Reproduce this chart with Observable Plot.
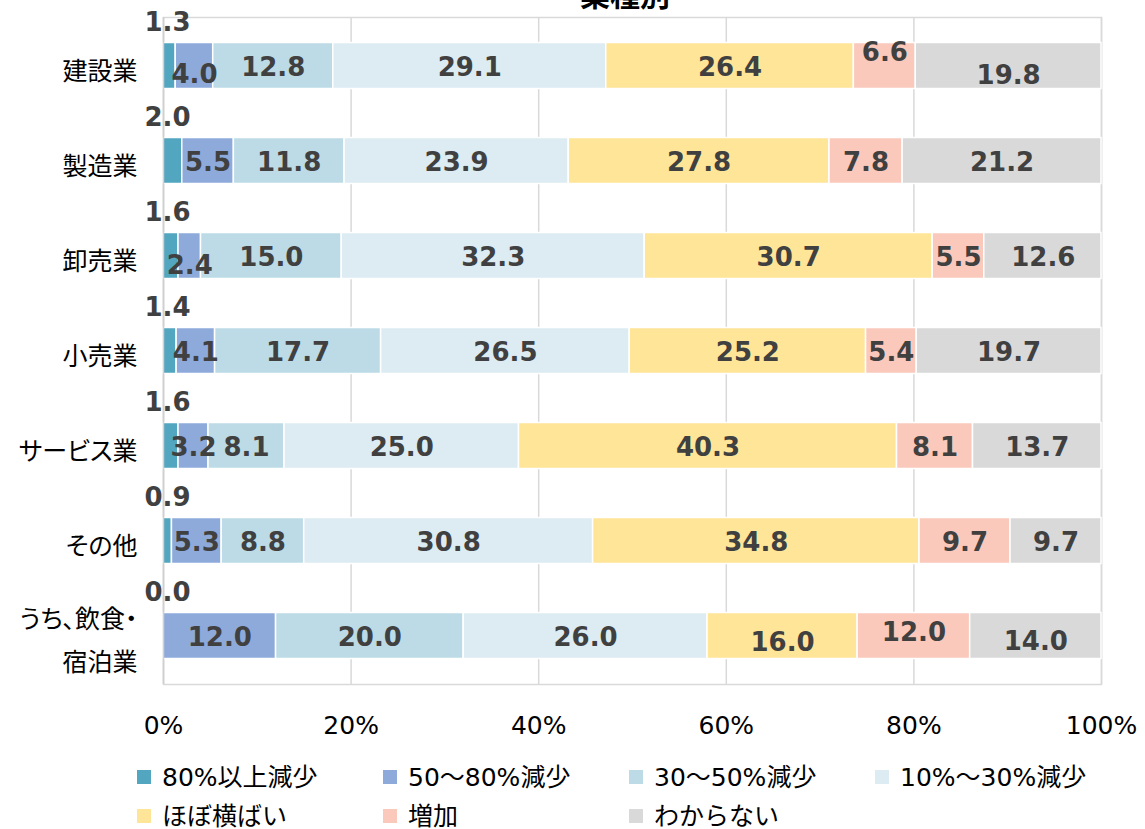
<!DOCTYPE html>
<html><head><meta charset="utf-8">
<script src="https://cdn.jsdelivr.net/npm/d3@7"></script>
<script src="https://cdn.jsdelivr.net/npm/@observablehq/plot@0.6"></script>
<style>
body{margin:0;background:#fff;}
#wrap{position:relative;width:1145px;height:829px;overflow:hidden;background:#fff;}
#title{position:absolute;top:-22px;left:0;width:1250px;text-align:center;font:bold 30px/30px "Noto Sans CJK JP";color:#000;}
#chart{position:absolute;top:0;left:0;}
#chart svg g[aria-label="y-axis tick label"] text{font-feature-settings:"palt";}
#legend{position:absolute;top:755px;left:137px;display:grid;grid-template-columns:repeat(4,246px);grid-auto-rows:39px;font:25px "DejaVu Sans","Noto Sans CJK JP";color:#000;}
#legend .it{display:flex;align-items:center;white-space:nowrap;}
#legend .sw{width:14px;height:14px;margin-right:11px;margin-top:4px;flex:none;}
</style></head>
<body><div id="wrap"><div id="title">業種別</div><div id="chart"></div><div id="legend"></div></div>
<script>
const categories = ["建設業","製造業","卸売業","小売業","サービス業","その他","うち、飲食・宿泊業"];
const seriesNames = ["80%以上減少","50～80%減少","30～50%減少","10%～30%減少","ほぼ横ばい","増加","わからない"];
const colors = ["#52A6C0","#8EAADB","#BCDBE6","#DCECF2","#FFE598","#FAC9BC","#D9D9D9"];
// values per series, in category order
const s80 = [1.3, 2.0, 1.6, 1.4, 1.6, 0.9, 0.0];
const s50 = [4.0, 5.5, 2.4, 4.1, 3.2, 5.3, 12.0];
const s30 = [12.8, 11.8, 15.0, 17.7, 8.1, 8.8, 20.0];
const s10 = [29.1, 23.9, 32.3, 26.5, 25.0, 30.8, 26.0];
const flat = [26.4, 27.8, 30.7, 25.2, 40.3, 34.8, 16.0];
const inc = [6.6, 7.8, 5.5, 5.4, 8.1, 9.7, 12.0];
const unk = [19.8, 21.2, 12.6, 19.7, 13.7, 9.7, 14.0];
const seriesValues = [s80, s50, s30, s10, flat, inc, unk];
const xTicks = [0, 20, 40, 60, 80, 100];
// label nudges (pixels): [category index, series index, dy]
const labelNudge = [[0,1,9],[0,5,-13],[0,6,10],[2,1,10],[4,1,2],[6,4,7],[6,5,-3],[6,6,6]];

const rows = [];
categories.forEach((c, ci) => {
  let acc = 0;
  seriesNames.forEach((s, si) => {
    const v = seriesValues[si][ci];
    rows.push({cat: c, series: s, si, ci, value: v, mid: acc + v / 2});
    acc += v;
  });
});
const labels = rows.map(d => {
  const n = labelNudge.find(k => k[0] === d.ci && k[1] === d.si);
  return {...d, lx: d.si === 0 ? 0 : d.mid, dy: d.si === 0 ? -43 : (n ? n[2] : 2), dx: d.si === 0 ? 4 : 0};
});
const groups = d3.groups(labels, d => d.dy + "|" + d.dx);
const textMarks = groups.map(([k, arr]) => Plot.text(arr, {
  x: "lx", y: "cat", text: d => d.value.toFixed(1), dy: arr[0].dy, dx: arr[0].dx,
  fill: "#404040", fontSize: 26, fontWeight: "bold", fontFamily: "DejaVu Sans"
}));

const chart = Plot.plot({
  width: 1145, height: 750,
  marginTop: 17, marginBottom: 66, marginLeft: 163, marginRight: 44,
  x: {domain: [0, 100], clamp: true},
  y: {domain: categories, padding: 0},
  color: {domain: seriesNames, range: colors},
  marks: [
    Plot.gridX(xTicks, {stroke: "#d9d9d9", strokeOpacity: 1, strokeWidth: 1.5}),
    Plot.frame({stroke: "#d9d9d9", strokeWidth: 1.5}),
    Plot.barX(rows, Plot.stackX({x: "value", y: "cat", fill: "series", insetTop: 24.5, insetBottom: 24.5, stroke: "white", strokeWidth: 1.5})),
    Plot.ruleX([0], {stroke: "#d0d0d0", strokeWidth: 1.5}),
    ...textMarks,
    Plot.axisX(xTicks, {tickSize: 0, tickPadding: 32, tickFormat: d => d + "%", fontSize: 25, fontFamily: "DejaVu Sans", fill: "#000", label: null}),
    Plot.axisY({tickSize: 0, tickPadding: 26, fontSize: 25, fontFamily: "Noto Sans CJK JP", fill: "#000", lineHeight: 1.7, label: null,
      tickFormat: d => d === "うち、飲食・宿泊業" ? "うち、飲食・\n宿泊業" : d})
  ]
});
document.getElementById("chart").appendChild(chart);

const lg = document.getElementById("legend");
seriesNames.forEach((s, i) => {
  const it = document.createElement("div"); it.className = "it";
  const sw = document.createElement("span"); sw.className = "sw"; sw.style.background = colors[i];
  const tx = document.createElement("span"); tx.textContent = s;
  it.appendChild(sw); it.appendChild(tx); lg.appendChild(it);
});
</script></body></html>
